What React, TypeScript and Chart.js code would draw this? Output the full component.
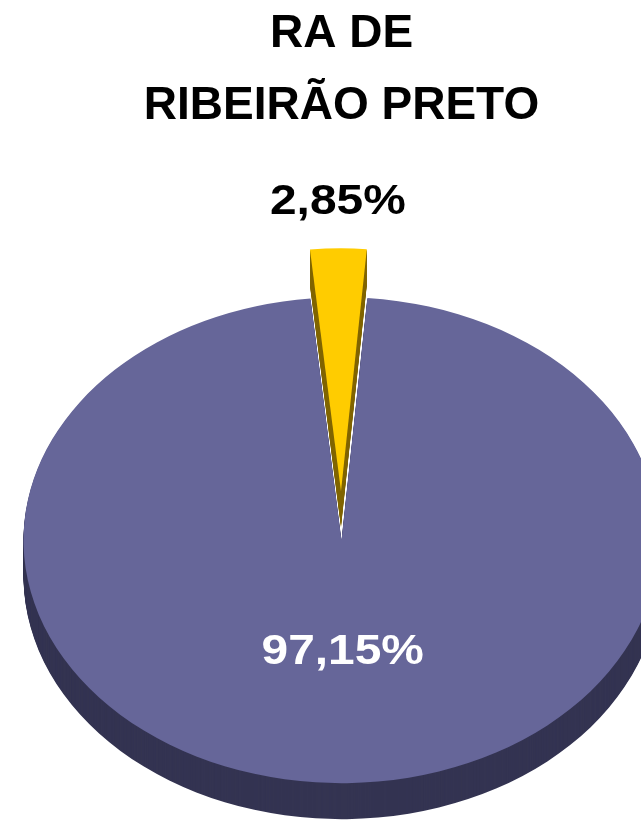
import React, { useEffect, useRef } from 'react';
import { Chart, registerables } from 'chart.js';

Chart.register(...registerables);

// ---- data ----
const categories = ['RA de Ribeirão Preto', 'Demais RAs'];
const values = [2.85, 97.15];
const titleLines = ['RA DE', 'RIBEIRÃO PRETO'];

// ---- styles ----
const faceColors = ['#FFCC00', '#666699'];
const sideColors = ['#806600', '#343452'];
const labelColors = ['#000000', '#FFFFFF'];
const explode = [64, 0];
const FONT = '"Liberation Sans", Arial, Helvetica, sans-serif';
const TILT = 0.764;
const DEPTH = 36;

const fmt = (v: number) => v.toFixed(2).replace('.', ',') + '%';

const pie3d = {
  id: 'pie3d',
  beforeDatasetsDraw(chart: any) {
    const meta = chart.getDatasetMeta(0);
    const ctx: CanvasRenderingContext2D = chart.ctx;
    const data = chart.data.datasets[0].data as number[];
    const total = data.reduce((s, v) => s + v, 0);
    const arcs = meta.data.map((el: any, i: number) => {
      const p = el.getProps(['x', 'y', 'startAngle', 'endAngle', 'outerRadius'], true);
      const off = el.options.offset || 0;
      const mid = (p.startAngle + p.endAngle) / 2;
      return {
        ...p,
        i,
        mid,
        off,
        ox: Math.cos(mid) * off,
        oy: Math.sin(mid) * off,
      };
    });
    const sector = (a: any, dy: number) => {
      ctx.save();
      ctx.translate(a.x + a.ox, a.y + a.oy * TILT + dy);
      ctx.scale(1, TILT);
      ctx.beginPath();
      ctx.moveTo(0, 0);
      ctx.arc(0, 0, a.outerRadius, a.startAngle, a.endAngle);
      ctx.closePath();
      ctx.restore();
    };
    ctx.save();
    // extruded sides
    for (const a of arcs) {
      ctx.fillStyle = sideColors[a.i];
      for (let d = DEPTH; d >= 1; d -= 1) {
        sector(a, d);
        ctx.fill();
      }
    }
    // top faces
    for (const a of arcs) {
      ctx.fillStyle = faceColors[a.i];
      sector(a, 0);
      ctx.fill();
    }
    // labels
    for (const a of arcs) {
      const share = data[a.i] / total;
      const r = share < 0.1 ? a.outerRadius * 1.19 + a.off : a.outerRadius * 0.46 + a.off;
      const x = a.x + Math.cos(a.mid) * r;
      const y = a.y + Math.sin(a.mid) * r * TILT;
      ctx.save();
      ctx.translate(x, y);
      ctx.scale(1.14, 1);
      ctx.font = `bold 42px ${FONT}`;
      ctx.textAlign = 'center';
      ctx.textBaseline = 'middle';
      ctx.fillStyle = labelColors[a.i];
      ctx.fillText(fmt(data[a.i]), 0, 0);
      ctx.restore();
    }
    ctx.restore();
    return false;
  },
};

export default function App() {
  const ref = useRef<HTMLCanvasElement | null>(null);
  useEffect(() => {
    if (!ref.current) return;
    const chart = new Chart(ref.current, {
      type: 'pie',
      data: {
        labels: categories,
        datasets: [
          {
            data: values,
            backgroundColor: faceColors,
            borderWidth: 0,
            offset: explode,
            clip: false,
          } as any,
        ],
      },
      options: {
        responsive: false,
        animation: false,
        devicePixelRatio: 1,
        rotation: -5.6,
        radius: 318,
        layout: { padding: { left: 42, top: -2, right: 0, bottom: 0 } },
        plugins: {
          legend: { display: false },
          tooltip: { enabled: false },
          title: {
            display: true,
            text: titleLines,
            color: '#000000',
            font: { family: FONT, size: 46, weight: 'bold', lineHeight: 1.57 },
            padding: { top: 0, bottom: 117 },
          },
        },
      } as any,
      plugins: [pie3d],
    });
    return () => chart.destroy();
  }, []);
  return (
    <div style={{ position: 'fixed', left: 0, top: 0, width: 641, height: 821, background: '#fff', overflow: 'hidden' }}>
      <canvas ref={ref} width={641} height={821} style={{ display: 'block' }} />
    </div>
  );
}
